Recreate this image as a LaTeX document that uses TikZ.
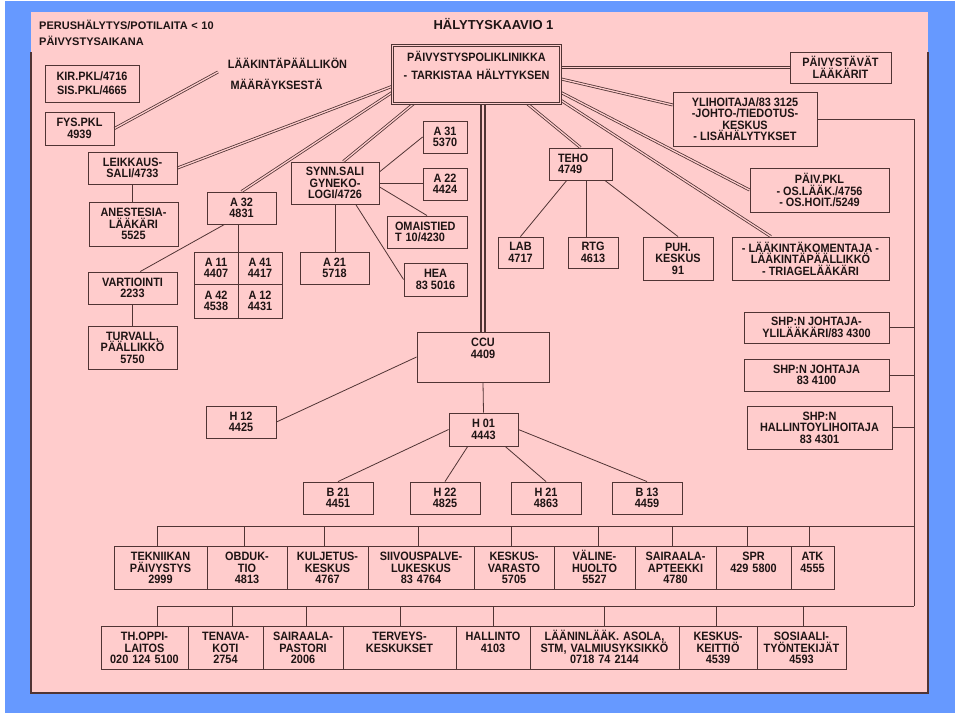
\documentclass[tikz,border=0pt]{standalone}
\usepackage{fontspec}
\setmainfont{Liberation Sans}[FakeStretch=0.9]
\newfontfamily\titlefont{Liberation Sans}
\usepackage{xcolor}
\usepackage{tikz}
\usetikzlibrary{backgrounds}

\definecolor{frameblue}{RGB}{102,153,255}
\definecolor{panelpink}{RGB}{255,204,204}
\definecolor{edgebrown}{RGB}{80,52,52}
\definecolor{inkdark}{RGB}{30,20,20}
\newcommand{\boxfont}{\bfseries\fontsize{12.1}{11.5}\selectfont\lineskiplimit=-20pt\relax}

\begin{document}
\begin{tikzpicture}[x=1pt, y=-1pt,
    every node/.style={font=\boxfont, text=inkdark},
    box/.style={draw=edgebrown, line width=0.9pt, align=center, inner sep=1pt},
    cell/.style={draw=edgebrown, line width=0.9pt, align=center, inner xsep=0pt,
      inner ysep=2pt, text height=12.5pt, text depth=26.5pt},
    txt/.style={inner sep=0pt},
    link/.style={draw=edgebrown, line width=0.8pt},
    dlink/.style={draw=edgebrown, line width=0.8pt, double=panelpink, double distance=1.3pt},
    trunk/.style={draw=edgebrown, line width=1.6pt, double=panelpink, double distance=2.2pt}]
  \useasboundingbox (0,0) rectangle (960,716);

  % slide frame
  \begin{scope}[on background layer]
    \fill[frameblue] (5,1) rectangle (955,713);
    \fill[panelpink] (31,12) rectangle (928,693);
    \draw[edgebrown, line width=1.2pt] (31,52) -- (31,693) -- (928,693) -- (928,52);
  \end{scope}

  % headings
  \node[txt, anchor=base west, text width=220pt, align=left,
    font=\titlefont\bfseries\fontsize{11}{16.4}\selectfont] (perus) at (39,29.3)
    {PERUSHÄLYTYS/POTILAITA < 10\\PÄIVYSTYSAIKANA};
  \node[txt, anchor=base, font=\titlefont\bfseries\fontsize{13}{15}\selectfont] (kaavio) at (493.5,29.3) {HÄLYTYSKAAVIO 1};
  \node[txt, anchor=base] (lkpa) at (287.5,68.3) {LÄÄKINTÄPÄÄLLIKÖN};
  \node[txt, anchor=base] (lkpb) at (276.5,89) {MÄÄRÄYKSESTÄ};

  % main box
  \node[box, double=panelpink, double distance=1.2pt, text width=166pt, inner ysep=2pt,
    text height=14pt, text depth=40pt] (pol) at (476.5,74.5)
    {PÄIVYSTYSPOLIKLINIKKA\\[6.5pt]- TARKISTAA HÄLYTYKSEN};

  % left side
  \node[box, minimum width=94pt, minimum height=37pt] (kir) at (92,83.5) {KIR.PKL/4716\\[2.5pt]SIS.PKL/4665};
  \node[box, minimum width=69pt, minimum height=33pt] (fys) at (79.5,128.5) {FYS.PKL\\4939};
  \node[box, minimum width=89pt, minimum height=32pt] (leik) at (132.5,168) {LEIKKAUS-\\SALI/4733};
  \node[box, minimum width=89pt, minimum height=44pt] (anest) at (133.5,224) {ANESTESIA-\\LÄÄKÄRI\\5525};
  \node[box, minimum width=89pt, minimum height=32pt] (vart) at (132.5,288) {VARTIOINTI\\2233};
  \node[box, minimum width=89pt, minimum height=43pt] (turv) at (132.5,347.5) {TURVALL,\\PÄÄLLIKKÖ\\5750};
  \node[box, minimum width=69pt, minimum height=32pt] (a32) at (241.5,208) {A 32\\4831};
  \node[box, minimum width=44pt, minimum height=32pt] (a11) at (216,268) {A 11\\4407};
  \node[box, minimum width=44pt, minimum height=32pt] (a41) at (260,268) {A 41\\4417};
  \node[box, minimum width=44pt, minimum height=34pt] (a42) at (216,301) {A 42\\4538};
  \node[box, minimum width=44pt, minimum height=34pt] (a12) at (260,301) {A 12\\4431};
  \node[box, minimum width=88pt, minimum height=42pt] (synn) at (335,183) {SYNN.SALI\\GYNEKO-\\LOGI/4726};
  \node[box, minimum width=69pt, minimum height=32pt] (a21) at (334.5,268) {A 21\\5718};
  \node[box, minimum width=44pt, minimum height=32pt] (a31) at (445,137) {A 31\\5370};
  \node[box, minimum width=44pt, minimum height=32pt] (a22) at (445,184) {A 22\\4424};
  \node[box, minimum width=80pt, minimum height=32pt, text width=64pt, align=left] (omai) at (427,232) {OMAISTIED\\T 10/4230};
  \node[box, minimum width=63pt, minimum height=33pt] (hea) at (435.5,279.5) {HEA\\83 5016};

  % right side
  \node[box, minimum width=63pt, minimum height=32pt, text width=45pt, align=left] (teho) at (580.5,164) {TEHO\\4749};
  \node[box, minimum width=45pt, minimum height=31pt] (lab) at (520.5,252.5) {LAB\\4717};
  \node[box, minimum width=50pt, minimum height=31pt] (rtg) at (593,252.5) {RTG\\4613};
  \node[box, minimum width=70pt, minimum height=43pt] (puh) at (678,258.5) {PUH.\\KESKUS\\91};
  \node[box, minimum width=157pt, minimum height=43pt] (lkom) at (810.5,258.5) {- LÄÄKINTÄKOMENTAJA -\\LÄÄKINTÄPÄÄLLIKKÖ\\- TRIAGELÄÄKÄRI};
  \node[box, minimum width=139pt, minimum height=44pt] (pkl) at (819.5,190) {PÄIV.PKL\\- OS.LÄÄK./4756\\- OS.HOIT./5249};
  \node[box, minimum width=101pt, minimum height=31pt] (paiv) at (840.5,67.5) {PÄIVYSTÄVÄT\\LÄÄKÄRIT};
  \node[box, minimum width=144pt, minimum height=54pt] (ylih) at (745,119) {YLIHOITAJA/83 3125\\-JOHTO-/TIEDOTUS-\\KESKUS\\- LISÄHÄLYTYKSET};
  \node[box, minimum width=145pt, minimum height=31pt] (shpa) at (816.5,327.5) {SHP:N JOHTAJA-\\YLILÄÄKÄRI/83 4300};
  \node[box, minimum width=145pt, minimum height=32pt] (shpb) at (816.5,375) {SHP:N JOHTAJA\\83 4100};
  \node[box, minimum width=145pt, minimum height=43pt] (shpc) at (819.5,427.5) {SHP:N\\HALLINTOYLIHOITAJA\\83 4301};

  % ccu and below
  \node[box, text width=130pt, inner ysep=2pt, text height=12.5pt, text depth=33.5pt] (ccu) at (483,357) {CCU\\4409};
  \node[box, minimum width=70pt, minimum height=32pt] (h12) at (241,422) {H 12\\4425};
  \node[box, minimum width=69pt, minimum height=33pt] (h01) at (483.5,429.5) {H 01\\4443};
  \node[box, minimum width=70pt, minimum height=32pt] (b21) at (338,498) {B 21\\4451};
  \node[box, minimum width=70pt, minimum height=32pt] (h22) at (445,498) {H 22\\4825};
  \node[box, minimum width=70pt, minimum height=32pt] (h21) at (546,498) {H 21\\4863};
  \node[box, minimum width=70pt, minimum height=32pt] (b13) at (647,498) {B 13\\4459};

  % service rows
  \foreach \xa/\xb/\xd/\nm/\txt in {114/207/157/tek/{TEKNIIKAN\\PÄIVYSTYS\\2999},
      207/287/244/obd/{OBDUK-\\TIO\\4813}, 287/368/324/kulj/{KULJETUS-\\KESKUS\\4767},
      368/474/418/siiv/{SIIVOUSPALVE-\\LUKESKUS\\83 4764}, 474/554/511/kvar/{KESKUS-\\VARASTO\\5705},
      554/635/598/val/{VÄLINE-\\HUOLTO\\5527}, 635/716/672/apt/{SAIRAALA-\\APTEEKKI\\4780},
      716/791/747/spr/{SPR\\429 5800}, 791/834/809/atk/{ATK\\4555}}{
    \pgfmathsetmacro{\cw}{\xb-\xa}
    \pgfmathsetmacro{\cx}{(\xa+\xb)/2}
    \node[cell, text width=\cw pt] (\nm) at (\cx,567.5) {\txt};
    \coordinate (d\nm) at (\xd,526);
  }
  \foreach \xa/\xb/\xd/\nm/\txt in {101/188/157/thop/{TH.OPPI-\\LAITOS\\020 124 5100},
      188/263/232/ten/{TENAVA-\\KOTI\\2754}, 263/343/306/past/{SAIRAALA-\\PASTORI\\2006},
      343/456/400/terv/{TERVEYS-\\KESKUKSET}, 456/530/493/hall/{HALLINTO\\4103},
      530/679/604/laan/{LÄÄNINLÄÄK. ASOLA,\\STM, VALMIUSYKSIKKÖ\\0718 74 2144},
      679/757/716/keit/{KESKUS-\\KEITTIÖ\\4539}, 757/846/803/sos/{SOSIAALI-\\TYÖNTEKIJÄT\\4593}}{
    \pgfmathsetmacro{\cw}{\xb-\xa}
    \pgfmathsetmacro{\cx}{(\xa+\xb)/2}
    \node[cell, text width=\cw pt] (\nm) at (\cx,647.5) {\txt};
    \coordinate (d\nm) at (\xd,606);
  }

  \coordinate (meet) at (218,72);
  \coordinate (busa) at (157,526);
  \coordinate (busb) at (157,606);
  \coordinate (rail) at (914,606);

  % connectors
  \begin{scope}[on background layer]
    \draw[dlink] (kir.east |- meet) -- (pol.west |- meet);
    \draw[dlink] (fys.east) -- (meet);
    \draw[dlink] (pol.188) -- (leik.east);
    \draw[dlink] (pol.192) -- (a32.north);
    \draw[dlink] (pol.205) -- (synn.69);
    \draw[dlink] (pol.330) -- (teho.north);
    \draw[dlink] (pol.east |- paiv.west) -- (paiv.west);
    \draw[dlink] (pol.357) -- (ylih.169);
    \draw[dlink] (pol.348) -- (pkl.west);
    \draw[dlink] (pol.343) -- (lkom.151);
    \draw[trunk] (ccu.north |- pol.south) -- (ccu.north);

    \draw[link] (leik.south) -- (leik.south |- anest.north);
    \draw[link] (vart.south) -- (turv.north);
    \draw[link] (a32.224) -- (vart.65);
    \draw[link] (a32.south -| a11.north east) -- (a11.north east);
    \draw[link] (synn.14) -- (a31.west);
    \draw[link] (synn.east) -- (synn.east -| a22.west);
    \draw[link] (synn.-5) -- (omai.north);
    \draw[link] (synn.-46) -- (hea.west);
    \draw[link] (synn.south) -- (synn.south |- a21.north);
    \draw[link] (teho.230) -- (lab.north);
    \draw[link] (teho.289) -- (teho.289 |- rtg.north);
    \draw[link] (teho.326) -- (puh.north);
    \draw[link] (ccu.west) -- (h12.east);
    \draw[link] (ccu.south) -- (h01.north);
    \draw[link] (h01.west) -- (b21.north);
    \draw[link] (h01.227) -- (h22.north);
    \draw[link] (h01.322) -- (h21.north);
    \draw[link] (h01.east) -- (b13.north);

    \draw[link] (ylih.east) -| (rail);
    \draw[link] (shpa.east) -- (shpa.east -| rail);
    \draw[link] (shpb.east) -- (shpb.east -| rail);
    \draw[link] (shpc.east) -- (shpc.east -| rail);
    \draw[link] (busa) -- (busa -| rail);
    \draw[link] (busb) -- (rail);
    \foreach \nm in {tek,obd,kulj,siiv,kvar,val,apt,spr,atk,thop,ten,past,terv,hall,laan,keit,sos}
      \draw[link] (d\nm) -- (d\nm |- \nm.north);
  \end{scope}
\end{tikzpicture}
\end{document}
